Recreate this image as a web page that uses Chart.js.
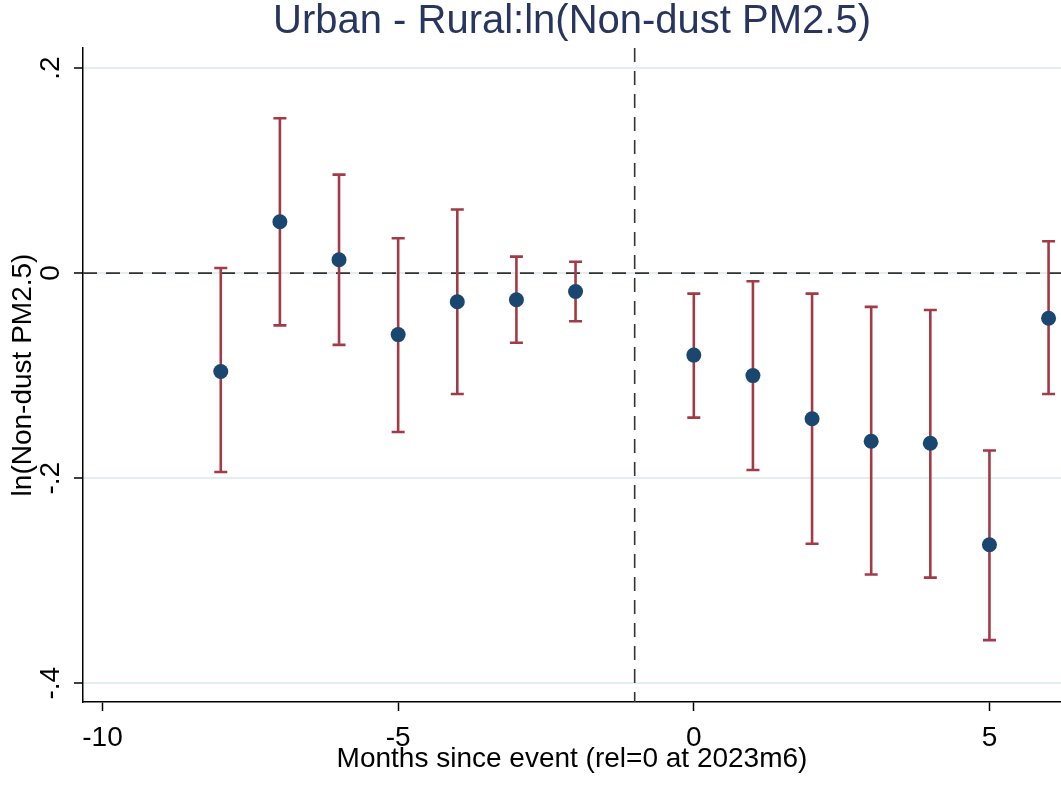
<!DOCTYPE html>
<html>
<head>
<meta charset="utf-8">
<script src="https://cdn.jsdelivr.net/npm/chart.js@4/dist/chart.umd.min.js"></script>
<style>
  html, body { margin: 0; padding: 0; background: #ffffff; }
  #wrap { width: 1061px; height: 787px; position: relative; }
</style>
</head>
<body>
<div id="wrap"><canvas id="c" width="1061" height="787"></canvas></div>
<script>
// ---- data ----
const months   = [-8, -7, -6, -5, -4, -3, -2, 0, 1, 2, 3, 4, 5, 6];
const estimate = [-0.096, 0.050, 0.013, -0.060, -0.028, -0.026, -0.018, -0.080, -0.100, -0.142, -0.164, -0.166, -0.265, -0.044];
const ciLow    = [-0.194, -0.051, -0.070, -0.155, -0.118, -0.068, -0.047, -0.141, -0.192, -0.264, -0.294, -0.297, -0.358, -0.118];
const ciHigh   = [0.005, 0.151, 0.096, 0.034, 0.062, 0.016, 0.011, -0.020, -0.008, -0.020, -0.033, -0.036, -0.173, 0.031];
const xTickValues = [-10, -5, 0, 5];
const yTickValues = [-0.4, -0.2, 0, 0.2];
const yTickLabels = ['-.4', '-.2', '0', '.2'];
const eventLine = -1;   // vertical reference line
const zeroLine = 0;     // horizontal reference line
const titleText = 'Urban - Rural:ln(Non-dust PM2.5)';
const xTitle = 'Months since event (rel=0 at 2023m6)';
const yTitle = 'ln(Non-dust PM2.5)';

const FONT = "'Liberation Sans', Arial, Helvetica, sans-serif";
const points = months.map((m, i) => ({ x: m, y: estimate[i] }));

const refLines = {
  id: 'refLines',
  beforeDatasetsDraw(chart) {
    const { ctx, chartArea: a, scales: { x, y } } = chart;
    ctx.save();
    ctx.strokeStyle = '#333333';
    ctx.lineWidth = 1.6;
    ctx.setLineDash([14, 9]);
    const py = y.getPixelForValue(zeroLine);
    ctx.beginPath(); ctx.moveTo(a.left, py); ctx.lineTo(a.right, py); ctx.stroke();
    const px = x.getPixelForValue(eventLine);
    ctx.beginPath(); ctx.moveTo(px, a.top); ctx.lineTo(px, a.bottom); ctx.stroke();
    ctx.setLineDash([]);
    // error bars
    ctx.strokeStyle = '#a23b45';
    ctx.lineWidth = 2.6;
    const cap = 6.5;
    months.forEach((m, i) => {
      const cx = x.getPixelForValue(m);
      const lo = y.getPixelForValue(ciLow[i]);
      const hi = y.getPixelForValue(ciHigh[i]);
      ctx.beginPath();
      ctx.moveTo(cx, lo); ctx.lineTo(cx, hi);
      ctx.moveTo(cx - cap, lo); ctx.lineTo(cx + cap, lo);
      ctx.moveTo(cx - cap, hi); ctx.lineTo(cx + cap, hi);
      ctx.stroke();
    });
    ctx.restore();
  },
  afterDraw(chart) {
    const { ctx, scales: { y } } = chart;
    ctx.save();
    ctx.fillStyle = '#000000';
    ctx.font = '28px ' + FONT;
    ctx.textAlign = 'center';
    ctx.textBaseline = 'middle';
    yTickValues.forEach((v, i) => {
      const py = y.getPixelForValue(v);
      ctx.save();
      ctx.translate(51, py);
      ctx.rotate(-Math.PI / 2);
      ctx.fillText(yTickLabels[i], 0, 0);
      ctx.restore();
    });
    ctx.restore();
  }
};

new Chart(document.getElementById('c'), {
  type: 'scatter',
  data: {
    datasets: [{
      label: 'Estimate',
      data: points,
      pointRadius: 7.5,
      pointHoverRadius: 7.5,
      pointBackgroundColor: '#1a476f',
      pointBorderColor: '#1a476f',
      pointBorderWidth: 0,
      showLine: false,
      clip: false
    }]
  },
  options: {
    responsive: false,
    animation: false,
    events: [],
    layout: { padding: 0, autoPadding: false },
    plugins: {
      legend: { display: false },
      tooltip: { enabled: false },
      title: {
        display: true,
        fullSize: false,
        text: titleText,
        color: '#28365f',
        font: { family: FONT, size: 40, weight: 'normal', lineHeight: 1 },
        padding: { top: 2, bottom: 6 }
      }
    },
    scales: {
      x: {
        type: 'linear',
        min: -10.33,
        max: 6.21,
        afterBuildTicks: s => { s.ticks = xTickValues.map(v => ({ value: v })); },
        afterFit: s => { s.height = 85; },
        grid: { drawOnChartArea: false, drawTicks: true, tickLength: 9, tickColor: '#000000', tickWidth: 1.5 },
        border: { display: true, color: '#000000', width: 1.5 },
        ticks: {
          color: '#000000', padding: 10, maxRotation: 0, autoSkip: false,
          font: { family: FONT, size: 28 },
          callback: v => String(v)
        },
        title: {
          display: true, text: xTitle, color: '#000000',
          font: { family: FONT, size: 28 },
          padding: { top: 0, bottom: 11 }
        }
      },
      y: {
        type: 'linear',
        min: -0.4183,
        max: 0.2195,
        afterBuildTicks: s => { s.ticks = yTickValues.map(v => ({ value: v })); },
        afterFit: s => { s.width = 83; },
        grid: { color: '#e3eef0', lineWidth: 2, drawTicks: true, tickLength: 9, tickColor: '#000000', tickWidth: 1.5 },
        border: { display: true, color: '#000000', width: 1.5 },
        ticks: { display: false },
        title: {
          display: true, text: yTitle, color: '#000000',
          font: { family: FONT, size: 28 },
          padding: { top: 6, bottom: 0 }
        }
      }
    }
  },
  plugins: [refLines]
});
</script>
</body>
</html>
